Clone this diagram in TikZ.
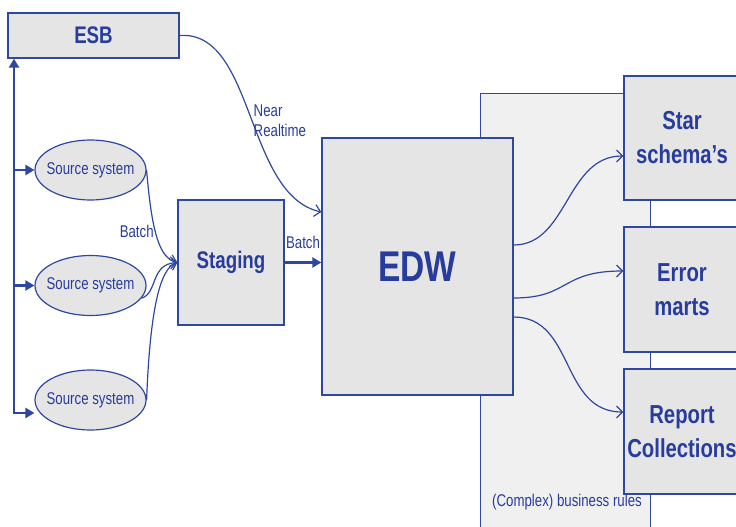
\documentclass[tikz,border=0pt]{standalone}
\usepackage{fontspec}
\setmainfont{Liberation Sans}[FakeStretch=0.78]
\usetikzlibrary{arrows.meta,shapes.geometric}
\definecolor{edwblue}{RGB}{46,72,160}
\definecolor{textblue}{RGB}{40,60,155}
\definecolor{boxgray}{RGB}{229,229,229}
\definecolor{rulegray}{RGB}{240,240,240}

\begin{document}
\begin{tikzpicture}[x=1pt,y=-1pt,>={Triangle[length=9pt,width=10pt]},
  box/.style={draw=edwblue,line width=1.3pt,fill=boxgray,text=textblue,align=center,inner sep=0pt},
  srcnode/.style={ellipse,draw=edwblue,line width=1.2pt,fill=boxgray,text=textblue,
    font=\fontsize{17}{19}\selectfont,minimum width=111pt,minimum height=60pt,inner xsep=-6pt,inner ysep=0pt},
  bus/.style={draw=edwblue,line width=2.6pt},
  flow/.style={draw=edwblue,line width=1.2pt,-{Straight Barb[length=6pt,width=12pt]}},
  lbl/.style={text=textblue,font=\fontsize{17}{20}\selectfont,inner sep=1pt}]
  \useasboundingbox (0,0) rectangle (736,527);
  \node[draw=edwblue,line width=1.1pt,fill=rulegray,anchor=north west,
    minimum width=170pt,minimum height=450pt,inner sep=0pt] (rules) at (480,93) {};
  \node[lbl] (rulestext) at (567,502) {(Complex) business rules};
  \node[box,minimum width=171pt,minimum height=45pt,font=\bfseries\fontsize{24}{28}\selectfont] (esb) at (93.5,35.5) {ESB};
  \node[srcnode] (src1) at (90.5,170) {Source system};
  \node[srcnode] (src2) at (90.5,285.5) {Source system};
  \node[srcnode] (src3) at (90.5,400) {Source system};
  \node[box,minimum width=106pt,minimum height=125pt,font=\bfseries\fontsize{24}{28}\selectfont] (staging) at (231,262.5) {Staging};
  \node[box,minimum width=191pt,minimum height=257pt,font=\bfseries\fontsize{43}{48}\selectfont] (edw) at (417.5,266.5) {EDW};
  \node[box,minimum width=116pt,minimum height=124pt,font=\bfseries\fontsize{26}{34}\selectfont] (star) at (682,138) {Star\\schema's};
  \node[box,minimum width=116pt,minimum height=125pt,font=\bfseries\fontsize{26}{34}\selectfont] (error) at (682,289.5) {Error\\marts};
  \node[box,minimum width=116pt,minimum height=125pt,font=\bfseries\fontsize{26}{34}\selectfont] (report) at (682,431.5) {Report\\Collections};
  \coordinate (busbot) at (14,413);
  \draw[bus,<->] (busbot |- esb.south) -- (busbot) -- (busbot -| src3.west);
  \draw[bus,->] (busbot |- src1.west) -- (src1.west);
  \draw[bus,->] (busbot |- src2.west) -- (src2.west);
  \draw[flow] (esb.east) .. controls (255,30) and (245,195) .. ([yshift=54.5pt]edw.west)
    node[lbl,pos=0.52,anchor=west,align=left] {Near\\Realtime};
  \draw[flow] (src1.east) .. controls (152,235) and (160,258) .. (staging.west)
    node[lbl,pos=0.42,anchor=east] {Batch};
  \draw[flow] (src2.-14) .. controls (158,293) and (150,264) .. (staging.west);
  \draw[flow] (src3.east) .. controls (150,310) and (160,268) .. (staging.west);
  \draw[bus,->] (staging.east) -- (staging.east -| edw.west)
    node[lbl,midway,above=12pt] {Batch};
  \draw[flow] ([yshift=21.5pt]edw.east) .. controls (568,245) and (566,156) .. ([yshift=-18pt]star.west);
  \draw[flow] ([yshift=-31.5pt]edw.east) .. controls (570,298) and (560,271) .. ([yshift=18.5pt]error.west);
  \draw[flow] ([yshift=-50.5pt]edw.east) .. controls (575,317) and (560,412) .. ([yshift=19.5pt]report.west);
\end{tikzpicture}
\end{document}
